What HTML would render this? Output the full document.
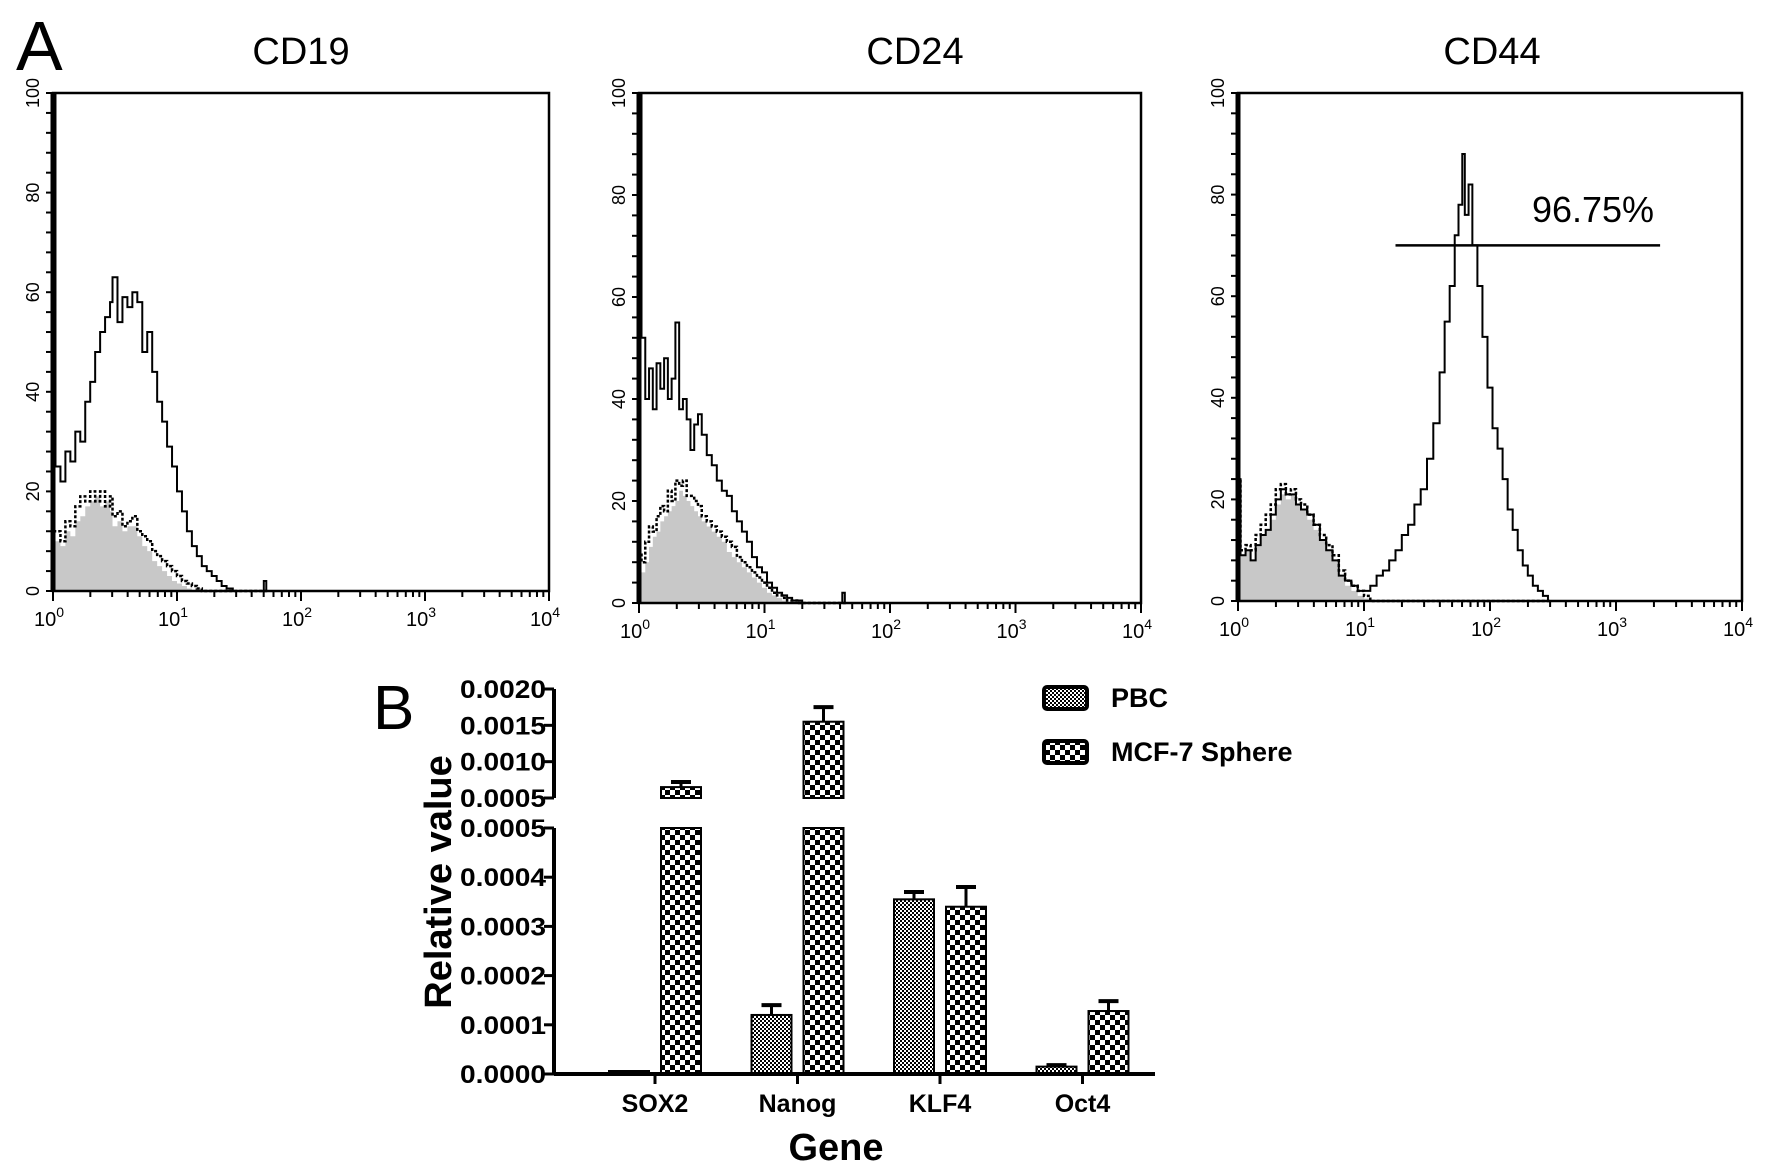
<!DOCTYPE html>
<html><head><meta charset="utf-8"><style>
html,body{margin:0;padding:0;background:#fff}
svg{display:block}
text{font-family:"Liberation Sans",Arial,sans-serif}
</style></head><body>
<svg id="fig" width="1772" height="1172" viewBox="0 0 1772 1172">
<defs>
<pattern id="pfine" width="4" height="4" patternUnits="userSpaceOnUse"><rect width="4" height="4" fill="#fff"/><rect width="2" height="2" fill="#000"/><rect x="2" y="2" width="2" height="2" fill="#000"/></pattern>
<pattern id="pcoarse" width="10" height="10" patternUnits="userSpaceOnUse"><rect width="10" height="10" fill="#000"/><rect x="0" y="0" width="5" height="5" fill="#fff"/><rect x="5" y="5" width="5" height="5" fill="#fff"/></pattern>
</defs>
<text x="16" y="70" font-size="70">A</text>
<text x="373" y="729" font-size="62">B</text>
<g id="hist"></g>
<g id="bars"></g>
</svg>
<script>
const NS="http://www.w3.org/2000/svg";
function mk(tag,attrs,parent){const e=document.createElementNS(NS,tag);for(const k in attrs)e.setAttribute(k,attrs[k]);parent.appendChild(e);return e;}

// ---------- Flow cytometry histogram data (x = log10 intensity, y = % max) ----------
const cd19X=[0,0.02,0.06,0.1,0.14,0.18,0.22,0.26,0.3,0.34,0.38,0.42,0.46,0.48,0.52,0.56,0.6,0.64,0.68,0.72,0.76,0.8,0.84,0.88,0.92,0.96,1.0,1.04,1.08,1.12,1.16,1.2,1.24,1.28,1.32,1.36,1.4,1.45,1.68,1.7,1.72];
const cd19Stained=[100,25,22,28,26,32,30,38,42,48,52,55,58,63,54,59,57,60,58,48,52,44,38,34,29,25,20,16,12,9,7,5,4,3,2,1,0.5,0,0,2,0];
const cd19Control=[8,10,9,12,11,14,15,17,18,19,17,18,16,13,14,12,13,13,11,9,8,6,5,4,3,2,1.5,1,0.5,0,0,0,0,0,0,0,0,0,0,0,0];
const cd19Dotted=[12,12,10,14,13,17,19,18,20,18,20,17,19,15,16,13,14,15,12,11,10,8,7,6,5,4,3,2,1.5,1,0.5,0,0,0,0,0,0,0,0,0,0];

const cd24X=[0,0.02,0.05,0.08,0.11,0.14,0.17,0.2,0.23,0.26,0.29,0.32,0.35,0.38,0.41,0.44,0.47,0.5,0.54,0.58,0.62,0.66,0.7,0.74,0.78,0.82,0.86,0.9,0.94,0.98,1.02,1.06,1.1,1.14,1.18,1.22,1.26,1.3,1.6,1.62,1.64];
const cd24Stained=[100,52,40,46,38,47,42,48,40,44,55,38,40,36,30,35,37,33,29,27,24,22,21,18,16,14,12,9,7,6,4,3,2,1.5,1,0.5,0.5,0,0,2,0];
const cd24Control=[5,6,8,11,13,14,16,17,18,19,20,22,21,20,19,18,17,16,15,14,13,12,10,9,8,7,6,5,4,3,2,1.5,1,0.5,0,0,0,0,0,0,0];
const cd24Dotted=[10,8,12,15,14,17,19,18,22,20,24,23,24,21,21,20,19,17,16,15,14,13,12,11,9,8,7,6,5,4,3,2,1.5,1,0.5,0.5,0,0,0,0,0];

const cd44X=[0,0.02,0.06,0.1,0.14,0.18,0.22,0.26,0.3,0.34,0.38,0.42,0.46,0.5,0.55,0.6,0.65,0.7,0.75,0.8,0.85,0.9,0.95,1.0,1.05,1.1,1.15,1.2,1.25,1.3,1.35,1.4,1.45,1.5,1.55,1.6,1.64,1.68,1.72,1.75,1.78,1.8,1.83,1.86,1.9,1.94,1.98,2.02,2.06,2.1,2.14,2.18,2.22,2.26,2.3,2.34,2.38,2.42,2.46];
const cd44Stained=[24,9,10,8,11,13,14,17,20,22,21,21,19,18,17,15,12,10,8,5,4,3,2,2,3,5,6,8,10,13,15,19,22,28,35,45,55,62,72,78,88,76,82,70,62,52,42,34,30,24,18,14,10,7,5,3,2,1,0];
const cd44Control=[8,9,10,8,11,13,14,16,19,21,20,21,19,18,16,14,12,10,8,5,3,2,1,0.5,0,0,0,0,0,0,0,0,0,0,0,0,0,0,0,0,0,0,0,0,0,0,0,0,0,0,0,0,0,0,0,0,0,0,0];
const cd44Dotted=[24,10,11,10,13,15,17,19,22,23,21,22,20,19,17,15,13,11,9,6,4,3,2,1,0,0,0,0,0,0,0,0,0,0,0,0,0,0,0,0,0,0,0,0,0,0,0,0,0,0,0,0,0,0,0,0,0,0,0];

const yTickLabels=["0","20","40","60","80","100"];
const xTickExps=["0","1","2","3","4"];

const panels=[
 {name:"cd19",title:"CD19",L:53,T:93,W:496,H:498,xs:cd19X,st:cd19Stained,ct:cd19Control,dt:cd19Dotted},
 {name:"cd24",title:"CD24",L:639,T:93,W:502,H:510,xs:cd24X,st:cd24Stained,ct:cd24Control,dt:cd24Dotted},
 {name:"cd44",title:"CD44",L:1238,T:93,W:504,H:508,xs:cd44X,st:cd44Stained,ct:cd44Control,dt:cd44Dotted}
];
const H=document.getElementById('hist');
panels.forEach(p=>{
  const g=mk('g',{},H);
  
  
  const xs=v=>p.L+v/4*p.W, ys=v=>p.T+p.H-v/100*p.H;
  const t=mk('text',{x:p.L+p.W/2+(p.name==="cd19"?0:p.name==="cd24"?25:2),y:64,'font-size':38,'text-anchor':'middle'},g);t.textContent=p.title;
  
  
  function stepPath(arr){let d=`M${xs(p.xs[0])},${ys(0)}`;for(let i=0;i<arr.length;i++){const x0=xs(p.xs[i]),x1=i+1<arr.length?xs(p.xs[i+1]):x0+3;d+=`L${x0},${ys(arr[i])}L${x1},${ys(arr[i])}`;}return d;}
  const fill=mk('path',{d:stepPath(p.ct)+`L${xs(p.xs[p.xs.length-1])},${ys(0)}Z`,fill:'#c8c8c8',stroke:'none'},g);
  
  
  const dot=mk('path',{d:stepPath(p.dt),fill:'none',stroke:'#000','stroke-width':2.5,'stroke-dasharray':'3,2'},g);
  
  
  const sl=mk('path',{d:stepPath(p.st),fill:'none',stroke:'#000','stroke-width':2},g);
  
  
  const box=mk('rect',{x:p.L,y:p.T,width:p.W,height:p.H,fill:'none',stroke:'#000','stroke-width':2.5},g);
  
  
  mk('line',{x1:p.L,y1:p.T,x2:p.L,y2:p.T+p.H,stroke:'#000','stroke-width':5},g);
  for(let v=0;v<=100;v+=4){mk('line',{x1:p.L-7,y1:ys(v),x2:p.L,y2:ys(v),stroke:'#000','stroke-width':2},g);}
  yTickLabels.forEach(s=>{const y=ys(+s);const tt=mk('text',{x:0,y:0,'font-size':18,'text-anchor':'middle',transform:`translate(${p.L-14},${y}) rotate(-90)`},g);tt.textContent=s;
    
    });
  for(let dcd=0;dcd<4;dcd++){for(let k=1;k<=9;k++){const x=xs(dcd+Math.log10(k));mk('line',{x1:x,y1:p.T+p.H,x2:x,y2:p.T+p.H+(k===1?10:6),stroke:'#000','stroke-width':2},g);}}
  mk('line',{x1:xs(4),y1:p.T+p.H,x2:xs(4),y2:p.T+p.H+10,stroke:'#000','stroke-width':2},g);
  xTickExps.forEach(e=>{const tt=mk('text',{x:xs(+e)-4,y:p.T+p.H+35,'font-size':20,'text-anchor':'middle'},g);tt.innerHTML=`10<tspan dy="-9" font-size="14">${e}</tspan>`;
    
    });
  if(p.name==="cd44"){
    const gl=mk('line',{x1:xs(1.25),y1:ys(70),x2:xs(3.35),y2:ys(70),stroke:'#000','stroke-width':2.5},g);
    
    
    const gt=mk('text',{x:1593,y:222,'font-size':36,'text-anchor':'middle'},g);gt.textContent="96.75%";
    
    
  }
});

// ---------- Bar chart B ----------
const genes=["SOX2","Nanog","KLF4","Oct4"];
const pbcVals=[0.000002,0.00012,0.000355,0.000015];
const pbcErr=[0,0.00002,0.000015,0.000003];
const mcfVals=[0.00065,0.00155,0.00034,0.000128];
const mcfErr=[0.00007,0.0002,0.00004,0.00002];
const lowTicks=["0.0000","0.0001","0.0002","0.0003","0.0004","0.0005"];
const highTicks=["0.0005","0.0010","0.0015","0.0020"];

const B=document.getElementById('bars');
const AX=554, X1=1155, Y0=1074, YL=828, YH0=798, YH1=689;
function yScale(v){ if(v<=0.0005) return Y0-(v/0.0005)*(Y0-YL); return YH0-(v-0.0005)/0.0015*(YH0-YH1); }
const catX=i=>655+i*142.5;
const bw=40, off=26;
function drawBar(cx,v,e,pat,nm){
  const g=mk('g',{},B);
  
  
  const top=yScale(v);
  if(v>0.0005){
    mk('rect',{x:cx-bw/2,y:YL,width:bw,height:Y0-YL,fill:`url(#${pat})`,stroke:'#000','stroke-width':2},g);
    mk('rect',{x:cx-bw/2,y:top,width:bw,height:YH0-top,fill:`url(#${pat})`,stroke:'#000','stroke-width':2},g);
  } else {
    const t2=Math.min(top,Y0-3);
    mk('rect',{x:cx-bw/2,y:t2,width:bw,height:Y0-t2,fill:`url(#${pat})`,stroke:'#000','stroke-width':2},g);
  }
  if(e>0){const et=yScale(v+e);
    mk('line',{x1:cx,y1:top,x2:cx,y2:et,stroke:'#000','stroke-width':3},g);
    mk('line',{x1:cx-10,y1:et,x2:cx+10,y2:et,stroke:'#000','stroke-width':4},g);}
}
genes.forEach((gname,i)=>{
  drawBar(catX(i)-off,pbcVals[i],pbcErr[i],'pfine','bar-pbc-'+gname.toLowerCase());
  drawBar(catX(i)+off,mcfVals[i],mcfErr[i],'pcoarse','bar-mcf7-'+gname.toLowerCase());
  const t=mk('text',{x:catX(i),y:1112,'font-size':25,'font-weight':'bold','text-anchor':'middle'},B);t.textContent=gname;
  
  
  mk('line',{x1:catX(i),y1:Y0,x2:catX(i),y2:Y0+10,stroke:'#000','stroke-width':3},B);
});
const xa=mk('line',{x1:AX,y1:Y0,x2:X1,y2:Y0,stroke:'#000','stroke-width':4},B);


const ya1=mk('line',{x1:AX,y1:Y0,x2:AX,y2:YL,stroke:'#000','stroke-width':4},B);


const ya2=mk('line',{x1:AX,y1:YH0,x2:AX,y2:YH1,stroke:'#000','stroke-width':4},B);


lowTicks.forEach(s=>{const y=yScale(+s);mk('line',{x1:AX-10,y1:y,x2:AX,y2:y,stroke:'#000','stroke-width':3},B);
  const t=mk('text',{x:AX-8,y:y+9,'font-size':25,'font-weight':'bold','text-anchor':'end',textLength:86,lengthAdjust:'spacingAndGlyphs'},B);t.textContent=s;
  
  });
highTicks.forEach((s,j)=>{const y=j===0?YH0:YH0-(+s-0.0005)/0.0015*(YH0-YH1);mk('line',{x1:AX-10,y1:y,x2:AX,y2:y,stroke:'#000','stroke-width':3},B);
  const t=mk('text',{x:AX-8,y:y+9,'font-size':25,'font-weight':'bold','text-anchor':'end',textLength:86,lengthAdjust:'spacingAndGlyphs'},B);t.textContent=s;
  
  });
const yt=mk('text',{x:0,y:0,'font-size':38,'font-weight':'bold','text-anchor':'middle',transform:'translate(451,882) rotate(-90)'},B);yt.textContent="Relative value";


const xt=mk('text',{x:836,y:1160,'font-size':38,'font-weight':'bold','text-anchor':'middle'},B);xt.textContent="Gene";


const legend=[["PBC","pfine",698],["MCF-7 Sphere","pcoarse",752]];
legend.forEach(([lab,pat,cy])=>{
  const g=mk('g',{},B);
  
  
  mk('rect',{x:1044,y:cy-11,width:43,height:22,rx:3,fill:`url(#${pat})`,stroke:'#000','stroke-width':4},g);
  const t=mk('text',{x:1111,y:cy+9,'font-size':27,'font-weight':'bold'},g);t.textContent=lab;
});
</script>
</body></html>
